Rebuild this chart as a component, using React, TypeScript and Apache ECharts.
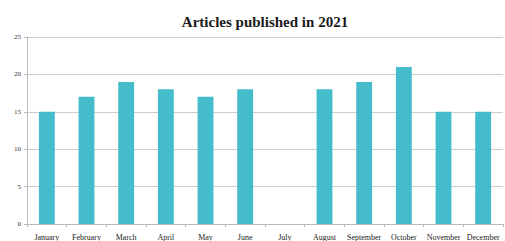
import React, { useEffect, useRef } from "react";
import * as echarts from "echarts";

const months = ["January", "February", "March", "April", "May", "June", "July", "August", "September", "October", "November", "December"];
const articles = [15, 17, 19, 18, 17, 18, null, 18, 19, 21, 15, 15];
const yTicks = { min: 0, max: 25, interval: 5 };

export default function App() {
  const ref = useRef<HTMLDivElement>(null);
  useEffect(() => {
    if (!ref.current) return;
    const chart = echarts.init(ref.current, null, { renderer: "svg" });
    const font = "'Liberation Serif', 'DejaVu Serif', serif";
    chart.setOption({
      animation: false,
      title: {
        text: "Articles published in 2021",
        left: 260,
        textAlign: "center",
        top: 9,
        textStyle: { fontFamily: font, fontSize: 15, fontWeight: "bold", color: "#1a1a1a" },
      },
      grid: { left: 27, right: 2, top: 37, bottom: 16 },
      xAxis: {
        type: "category",
        data: months,
        axisLine: { lineStyle: { color: "#bbb" } },
        axisTick: { show: true, length: 3, lineStyle: { color: "#bbb" } },
        axisLabel: { fontFamily: font, fontSize: 8, color: "#222", margin: 9, interval: 0 },
      },
      yAxis: {
        type: "value",
        min: yTicks.min,
        max: yTicks.max,
        interval: yTicks.interval,
        axisLine: { show: true, lineStyle: { color: "#bbb" } },
        axisTick: { show: true, length: 3, lineStyle: { color: "#bbb" } },
        splitLine: { lineStyle: { color: "#cccccc" } },
        axisLabel: { fontFamily: font, fontSize: 7, color: "#333", margin: 6 },
      },
      series: [
        {
          type: "bar",
          data: articles,
          barWidth: "40%",
          itemStyle: { color: "#45bccc" },
        },
      ],
    });
    return () => chart.dispose();
  }, []);
  return <div ref={ref} style={{ width: 505, height: 241, position: "absolute", left: 0, top: 0 }} />;
}
